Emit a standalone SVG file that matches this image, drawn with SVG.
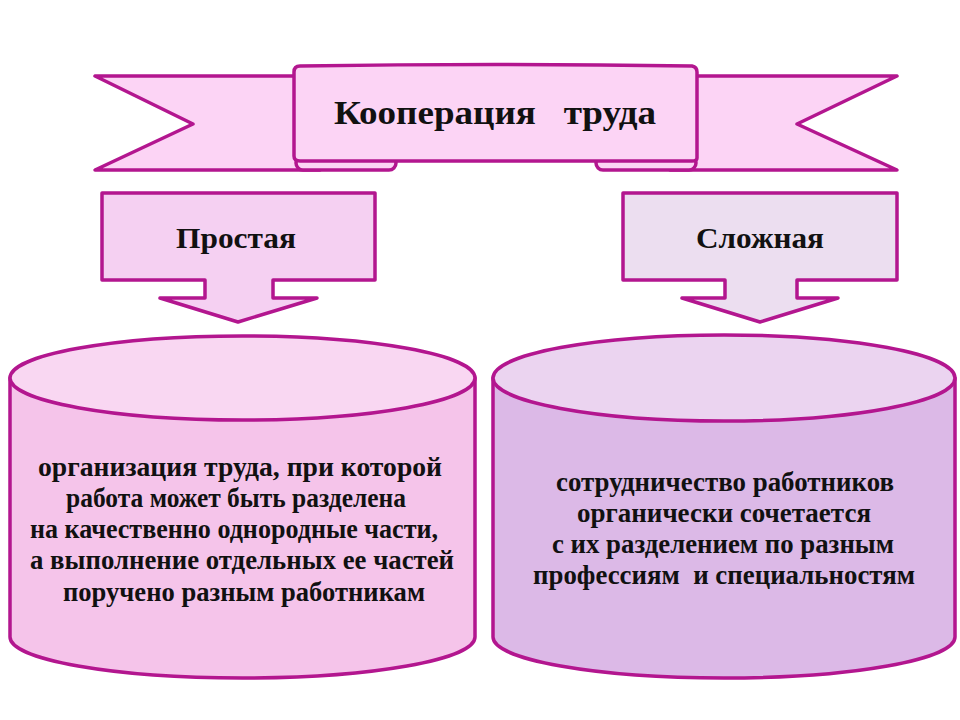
<svg xmlns="http://www.w3.org/2000/svg" width="960" height="720" viewBox="0 0 960 720">
<style>
.ln{stroke:#b3168f;stroke-width:3.5;stroke-linejoin:round}
.t{font-family:"Liberation Serif","DejaVu Serif",serif;font-weight:bold;fill:#111;text-anchor:middle;white-space:pre}
.title{font-size:33px}
.head{font-size:29px}
.body{font-size:27px}
</style>
<rect width="960" height="720" fill="#ffffff"/>
<g id="banner">
  <path class="ln" fill="#fcd4f5" d="M95,76 H320 V170 H95 L193,124 Z"/>
  <path class="ln" fill="#fcd4f5" d="M897,76 H670 V170 H897 L797,124 Z"/>
  <rect class="ln" fill="#fcd4f5" x="296" y="156" width="100" height="14" rx="7"/>
  <rect class="ln" fill="#fcd4f5" x="596" y="156" width="100" height="14" rx="7"/>
  <path class="ln" fill="#fcd4f5" d="M300,66 Q495,63 692,66 Q697,67 697,72 V158 Q697,161 692,161 H300 Q294,161 294,156 V72 Q294,66 300,66 Z"/>
  <text class="t title" x="495" y="124" textLength="322" lengthAdjust="spacingAndGlyphs" xml:space="preserve">Кооперация   труда</text>
</g>
<g id="simple">
  <path class="ln" fill="#f5d0f2" d="M102,193 H375 V280 H273 V298 H317 L238,322 L160,298 H205 V280 H102 Z"/>
  <text class="t head" x="236" y="248" textLength="120" lengthAdjust="spacingAndGlyphs">Простая</text>
</g>
<g id="complex">
  <path class="ln" fill="#ecdef0" d="M623,193 H897 V280 H797 V298 H838 L760,322 L682,298 H725 V280 H623 Z"/>
  <text class="t head" x="760" y="248" textLength="128" lengthAdjust="spacingAndGlyphs">Сложная</text>
</g>
<g id="simple-desc">
  <path class="ln" fill="#f5c4ea" d="M10,378 V637 A232.5,41 0 0 0 475,637 V378 Z"/>
  <ellipse class="ln" fill="#f9d7f2" cx="242.5" cy="378" rx="232.5" ry="42"/>
  <text class="t body" x="240" y="476" textLength="404" lengthAdjust="spacingAndGlyphs">организация труда, при которой</text>
  <text class="t body" x="236" y="507" textLength="340" lengthAdjust="spacingAndGlyphs">работа может быть разделена</text>
  <text class="t body" x="234" y="538" textLength="408" lengthAdjust="spacingAndGlyphs">на качественно однородные части,</text>
  <text class="t body" x="242" y="569" textLength="424" lengthAdjust="spacingAndGlyphs">а выполнение отдельных ее частей</text>
  <text class="t body" x="244" y="601" textLength="362" lengthAdjust="spacingAndGlyphs">поручено разным работникам</text>
</g>
<g id="complex-desc">
  <path class="ln" fill="#dcb9e7" d="M493,378 V637 A231,41 0 0 0 955,637 V378 Z"/>
  <ellipse class="ln" fill="#ebd4f0" cx="724" cy="378" rx="231" ry="43"/>
  <text class="t body" x="725" y="491" textLength="338" lengthAdjust="spacingAndGlyphs">сотрудничество работников</text>
  <text class="t body" x="724" y="522" textLength="294" lengthAdjust="spacingAndGlyphs">органически сочетается</text>
  <text class="t body" x="723" y="553" textLength="342" lengthAdjust="spacingAndGlyphs">с их разделением по разным</text>
  <text class="t body" x="724" y="584" textLength="382" lengthAdjust="spacingAndGlyphs" xml:space="preserve">профессиям  и специальностям</text>
</g>
</svg>
